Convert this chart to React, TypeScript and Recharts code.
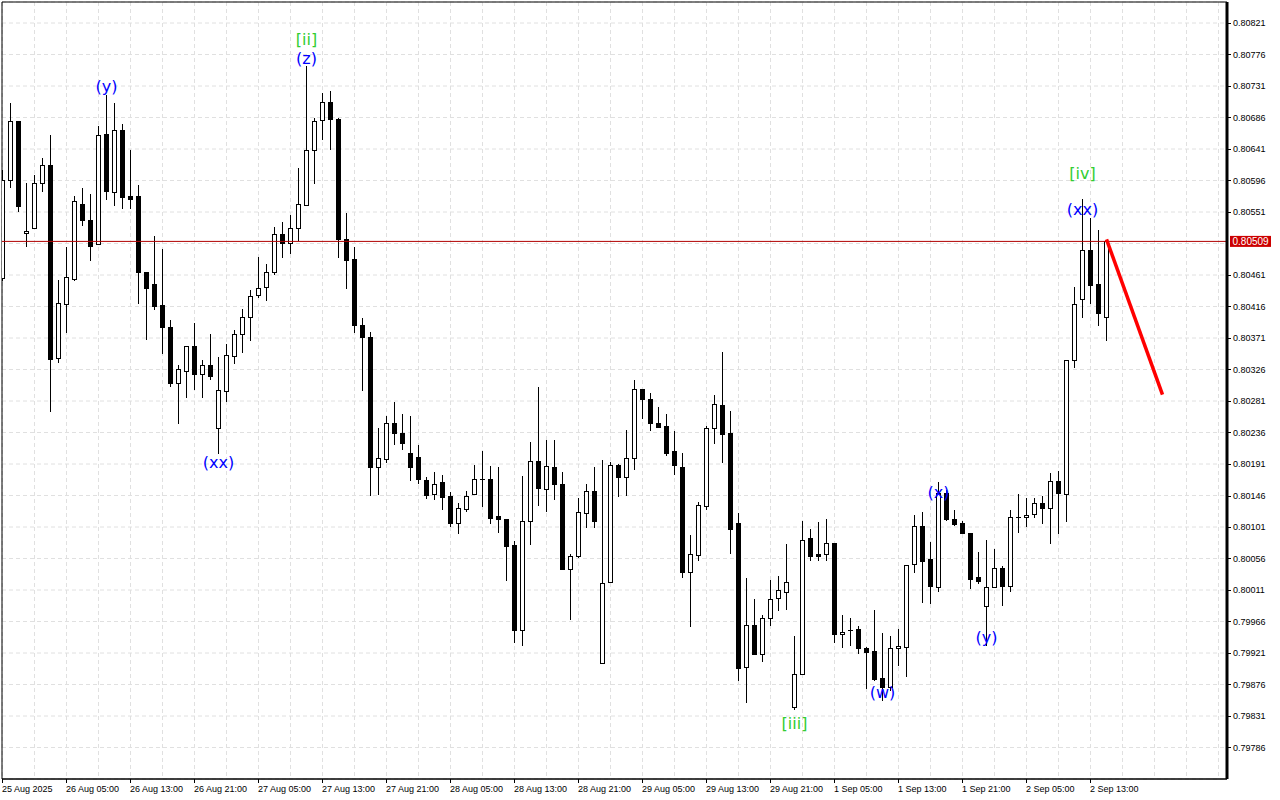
import React from 'react';
import {
  ComposedChart,
  Bar,
  XAxis,
  YAxis,
  CartesianGrid,
  ReferenceLine,
  ReferenceArea,
  Scatter,
} from 'recharts';

// ---- candle data (H1), index 0 = 25 Aug 21:00 ----
const opens = [
  0.80457, 0.80597, 0.80681, 0.80521, 0.80528, 0.80592, 0.80618, 0.80342, 0.80419, 0.80455,
  0.80563, 0.80539, 0.80505, 0.80662, 0.8058, 0.80668, 0.80574, 0.80574, 0.80465, 0.80448,
  0.80418, 0.80387, 0.80306, 0.80324, 0.8036, 0.80319, 0.80332, 0.80242, 0.80295, 0.80346,
  0.80376, 0.80401, 0.80433, 0.80444, 0.80465, 0.80519, 0.80506, 0.80528, 0.80561, 0.8064,
  0.80682, 0.80708, 0.80684, 0.80513, 0.80484, 0.80389, 0.80373, 0.80187, 0.80198, 0.80249,
  0.80235, 0.80206, 0.80201, 0.80168, 0.80148, 0.80165, 0.80145, 0.80107, 0.80127, 0.80148,
  0.8017, 0.8017, 0.80117, 0.80112, 0.80075, 0.79954, 0.80109, 0.80195, 0.80155, 0.80187,
  0.80163, 0.80041, 0.80059, 0.80121, 0.80152, 0.79906, 0.80022, 0.80189, 0.80172, 0.80199,
  0.80298, 0.80284, 0.80249, 0.80245, 0.8021, 0.80187, 0.80037, 0.80061, 0.80131, 0.80243,
  0.80275, 0.80235, 0.80106, 0.79901, 0.79961, 0.7992, 0.79971, 0.79999, 0.80008, 0.79844,
  0.79891, 0.80085, 0.80062, 0.80062, 0.80078, 0.79948, 0.79954, 0.79955, 0.79928, 0.79924,
  0.79885, 0.79872, 0.79928, 0.79929, 0.80048, 0.80103, 0.80055, 0.80015, 0.80149, 0.80113,
  0.80106, 0.80092, 0.80029, 0.79988, 0.80015, 0.80042, 0.80017, 0.80115, 0.80115, 0.8012,
  0.80135, 0.80128, 0.80166, 0.80148, 0.8034, 0.80426, 0.80497, 0.80448, 0.80401,
];

const highs = [
  0.80611, 0.80707, 0.80681, 0.80592, 0.80604, 0.80628, 0.80661, 0.80454, 0.80501, 0.80574,
  0.80585, 0.80577, 0.80674, 0.80718, 0.80706, 0.80677, 0.8064, 0.8059, 0.80465, 0.80517,
  0.80498, 0.80397, 0.80332, 0.8036, 0.80393, 0.8034, 0.80377, 0.80344, 0.80362, 0.80382,
  0.80412, 0.80439, 0.80487, 0.80477, 0.80529, 0.80536, 0.80547, 0.80614, 0.80759, 0.80685,
  0.80721, 0.80724, 0.80685, 0.8055, 0.80501, 0.80399, 0.8038, 0.80242, 0.80259, 0.80279,
  0.80262, 0.80259, 0.80218, 0.80172, 0.80179, 0.80175, 0.80151, 0.80135, 0.80153, 0.8019,
  0.8021, 0.80188, 0.80187, 0.80112, 0.80081, 0.80174, 0.80222, 0.80301, 0.80225, 0.80225,
  0.80179, 0.80063, 0.80142, 0.80162, 0.80187, 0.80197, 0.80194, 0.80191, 0.8024, 0.80311,
  0.80298, 0.80293, 0.80272, 0.80262, 0.80238, 0.80206, 0.8009, 0.80136, 0.80245, 0.8029,
  0.80351, 0.80266, 0.80121, 0.80028, 0.79998, 0.79975, 0.80025, 0.80031, 0.80077, 0.79945,
  0.8011, 0.80098, 0.80108, 0.80112, 0.80078, 0.79975, 0.79971, 0.79959, 0.7993, 0.79982,
  0.79949, 0.79945, 0.79955, 0.80047, 0.80118, 0.80123, 0.8008, 0.80165, 0.80154, 0.80125,
  0.80109, 0.80092, 0.80065, 0.80083, 0.80069, 0.80045, 0.80125, 0.80148, 0.80143, 0.80142,
  0.80145, 0.80178, 0.80181, 0.8034, 0.80444, 0.8057, 0.80543, 0.80525, 0.80511,
];

const lows = [
  0.80454, 0.80587, 0.80552, 0.80503, 0.80528, 0.80581, 0.80267, 0.80337, 0.80379, 0.80454,
  0.80533, 0.80482, 0.80505, 0.8057, 0.80561, 0.80556, 0.80556, 0.80421, 0.8037, 0.80412,
  0.8035, 0.80303, 0.8025, 0.80286, 0.80298, 0.80286, 0.80312, 0.80206, 0.80281, 0.80335,
  0.80351, 0.80368, 0.8043, 0.80425, 0.80462, 0.80486, 0.80492, 0.80511, 0.80561, 0.80592,
  0.80655, 0.80641, 0.80487, 0.80443, 0.8038, 0.80296, 0.80147, 0.80148, 0.80194, 0.8022,
  0.80213, 0.80168, 0.80164, 0.80142, 0.80141, 0.80127, 0.80102, 0.80093, 0.80124, 0.80148,
  0.80131, 0.80107, 0.80094, 0.80025, 0.79936, 0.79932, 0.80076, 0.80133, 0.80124, 0.80141,
  0.80041, 0.7997, 0.80058, 0.80101, 0.80101, 0.79906, 0.80022, 0.80146, 0.80147, 0.80184,
  0.80257, 0.80239, 0.80244, 0.80204, 0.80177, 0.80029, 0.79959, 0.80054, 0.80127, 0.80221,
  0.80194, 0.80064, 0.79883, 0.79851, 0.7992, 0.79909, 0.79961, 0.79982, 0.79984, 0.79841,
  0.79891, 0.80054, 0.80054, 0.80054, 0.79936, 0.79929, 0.79932, 0.79921, 0.79871, 0.79882,
  0.79854, 0.79868, 0.79904, 0.79888, 0.80037, 0.79994, 0.79993, 0.80009, 0.80111, 0.80104,
  0.80093, 0.80014, 0.80021, 0.79932, 0.80015, 0.79989, 0.8001, 0.80094, 0.80103, 0.80115,
  0.80107, 0.80078, 0.80092, 0.80109, 0.8033, 0.80401, 0.80421, 0.80389, 0.80368,
];

const closes = [
  0.80597, 0.80681, 0.8056, 0.80524, 0.80592, 0.80618, 0.80341, 0.80421, 0.80458, 0.80566,
  0.80539, 0.80503, 0.80661, 0.80581, 0.80668, 0.80573, 0.8057, 0.80465, 0.80443, 0.80417,
  0.80386, 0.80307, 0.80326, 0.8036, 0.80319, 0.80333, 0.80316, 0.80296, 0.80346, 0.80376,
  0.80401, 0.80431, 0.80443, 0.80465, 0.80519, 0.80506, 0.80528, 0.80562, 0.8064, 0.80681,
  0.80708, 0.80684, 0.80513, 0.80482, 0.80389, 0.80372, 0.80187, 0.80199, 0.80249, 0.80235,
  0.80221, 0.80186, 0.80169, 0.80147, 0.80163, 0.80144, 0.80107, 0.80128, 0.80146, 0.80169,
  0.8017, 0.80114, 0.80112, 0.80074, 0.79954, 0.8011, 0.80195, 0.80157, 0.80188, 0.80163,
  0.80041, 0.80059, 0.80122, 0.80152, 0.8011, 0.80021, 0.80189, 0.80173, 0.80199, 0.80298,
  0.80284, 0.80249, 0.80244, 0.80207, 0.80189, 0.80037, 0.80062, 0.80132, 0.80243, 0.80276,
  0.80234, 0.80098, 0.799, 0.79961, 0.7992, 0.79971, 0.79998, 0.80011, 0.80023, 0.79891,
  0.80082, 0.8006, 0.8006, 0.80078, 0.79948, 0.79951, 0.79954, 0.79928, 0.79922, 0.79884,
  0.79872, 0.79928, 0.79931, 0.80047, 0.80103, 0.80053, 0.80017, 0.80149, 0.80112, 0.80105,
  0.80093, 0.80027, 0.80024, 0.80015, 0.80042, 0.80017, 0.80115, 0.80115, 0.80118, 0.80135,
  0.80128, 0.80167, 0.80149, 0.8034, 0.80419, 0.80497, 0.80447, 0.80406, 0.80509,
];

// ---- axis ticks ----
const priceTicks = [
  0.80821, 0.80776, 0.80731, 0.80686, 0.80641, 0.80596, 0.80551, 0.80506, 0.80461, 0.80416,
  0.80371, 0.80326, 0.80281, 0.80236, 0.80191, 0.80146, 0.80101, 0.80056, 0.80011, 0.79966,
  0.79921, 0.79876, 0.79831, 0.79786,
];
const hiddenPriceLabel = 0.80506;

const timeLabels = [
  '25 Aug 2025', '26 Aug 05:00', '26 Aug 13:00', '26 Aug 21:00', '27 Aug 05:00', '27 Aug 13:00',
  '27 Aug 21:00', '28 Aug 05:00', '28 Aug 13:00', '28 Aug 21:00', '29 Aug 05:00', '29 Aug 13:00',
  '29 Aug 21:00', '1 Sep 05:00', '1 Sep 13:00', '1 Sep 21:00', '2 Sep 05:00', '2 Sep 13:00',
];
const gridStepBars = 4;
const labelStepBars = 8;
const gridTicks = Array.from({ length: 39 }, (_, k) => k * gridStepBars);

const currentPrice = 0.80509;

// ---- wave annotations ----
const waveText = ['(y)', '[ii]', '(z)', '(xx)', '[iii]', '(w)', '(x)', '(y)', '[iv]', '(xx)'];
const waveIdx = [13, 38, 38, 27, 99, 110, 117, 123, 135, 135];
const wavePrice = [0.8073, 0.80798, 0.8077, 0.80194, 0.79821, 0.79865, 0.80151, 0.79944, 0.80607, 0.80555];
const waveKind = ['minor', 'major', 'minor', 'minor', 'major', 'minor', 'minor', 'minor', 'major', 'minor'];

// ---- forecast arrow ----
const forecastIdx = [138, 145];
const forecastPrice = [0.80512, 0.8029];

const candles = opens.map((o, i) => ({ i, o, h: highs[i], l: lows[i], c: closes[i] }));
const waveData = waveText.map((t, k) => ({
  i: waveIdx[k],
  p: wavePrice[k],
  text: t,
  color: waveKind[k] === 'major' ? '#32cd32' : '#0000ff',
}));

const X_DOMAIN: [number, number] = [-0.0625, 153.0625];
const Y_DOMAIN: [number, number] = [0.79741, 0.80851];

const AXIS_FONT = '"Liberation Sans", Arial, sans-serif';

function Candle(props: any) {
  const { x, y, width, height, payload } = props;
  if (x == null || y == null || !payload) return null;
  const { o, h, l, c } = payload;
  const top = Math.min(y, y + height);
  const span = Math.abs(height);
  const k = h - l > 0 ? span / (h - l) : 0;
  const yO = top + (h - o) * k;
  const yC = top + (h - c) * k;
  const cx = Math.floor(x + width / 2) + 0.5;
  const wTop = Math.round(top);
  const wBot = Math.round(top + span);
  const bTop = Math.round(Math.min(yO, yC));
  const bBot = Math.round(Math.max(yO, yC));
  const isDoji = o === c || bBot - bTop < 1;
  return (
    <g>
      <line x1={cx} x2={cx} y1={wTop} y2={wBot + 1} stroke="#000" strokeWidth={1} />
      {isDoji ? (
        <line x1={cx - 2.5} x2={cx + 2.5} y1={bTop + 0.5} y2={bTop + 0.5} stroke="#000" strokeWidth={1} />
      ) : (
        <rect
          x={cx - 2}
          y={bTop + 0.5}
          width={4}
          height={bBot - bTop}
          fill={c > o ? '#fff' : '#000'}
          stroke="#000"
          strokeWidth={1}
        />
      )}
    </g>
  );
}

function XTick(props: any) {
  const { x, y, payload } = props;
  const v = payload.value;
  if (v % labelStepBars !== 0) return null;
  const label = timeLabels[v / labelStepBars];
  if (!label) return null;
  const px = Math.floor(x) + 0.5;
  return (
    <g>
      <line x1={px} x2={px} y1={y} y2={y + 4} stroke="#000" strokeWidth={1} />
      <text x={px - 0.5} y={y + 13} fontSize={9} fontFamily={AXIS_FONT} fill="#000" textAnchor="start">
        {label}
      </text>
    </g>
  );
}

function YTick(props: any) {
  const { x, y, payload } = props;
  const v = payload.value;
  if (Math.abs(v - hiddenPriceLabel) < 1e-7) return null;
  const py = Math.round(y) + 0.5;
  return (
    <g>
      <line x1={x} x2={x + 4} y1={py} y2={py} stroke="#000" strokeWidth={1} />
      <text x={x + 6} y={y + 3.3} fontSize={9} fontFamily={AXIS_FONT} fill="#000" textAnchor="start">
        {v.toFixed(5)}
      </text>
    </g>
  );
}

function PriceTag(props: any) {
  const vb = props.viewBox || {};
  const x0 = (vb.x || 0) + (vb.width || 0) + 3;
  const y0 = vb.y || 0;
  return (
    <g>
      <rect x={x0} y={y0 - 5.5} width={41} height={11} fill="#cc0000" />
      <text x={x0 + 2.5} y={y0 + 3.6} fontSize={10} fontFamily={AXIS_FONT} fill="#fff" textAnchor="start">
        {currentPrice.toFixed(5)}
      </text>
    </g>
  );
}

function WaveLabel(props: any) {
  const { cx, cy, payload } = props;
  if (cx == null || cy == null) return null;
  return (
    <text
      x={cx}
      y={cy}
      dy="0.36em"
      textAnchor="middle"
      fontSize={16}
      fontFamily='"DejaVu Sans", sans-serif'
      fill={payload.color}
    >
      {payload.text}
    </text>
  );
}

export default function App() {
  return (
    <div style={{ position: 'absolute', left: 0, top: 0, width: 1280, height: 800, background: '#fff' }}>
      <ComposedChart
        width={1280}
        height={800}
        data={candles}
        margin={{ top: 2, right: 0, bottom: 0, left: 2 }}
      >
        <CartesianGrid stroke="#e0e0e0" strokeDasharray="4 3" />
        <XAxis
          dataKey="i"
          type="number"
          domain={X_DOMAIN}
          allowDataOverflow
          ticks={gridTicks}
          interval={0}
          height={21}
          tickSize={0}
          tickMargin={0}
          tickLine={false}
          axisLine={{ stroke: '#000' }}
          tick={(p: any) => <XTick {...p} />}
        />
        <YAxis
          orientation="right"
          type="number"
          domain={Y_DOMAIN}
          allowDataOverflow
          ticks={priceTicks}
          interval={0}
          width={53}
          tickSize={0}
          tickMargin={0}
          tickLine={false}
          axisLine={{ stroke: '#000', strokeWidth: 3 }}
          tick={(p: any) => <YTick {...p} />}
        />
        <ReferenceArea
          x1={X_DOMAIN[0]}
          x2={X_DOMAIN[1]}
          y1={Y_DOMAIN[0]}
          y2={Y_DOMAIN[1]}
          fill="none"
          fillOpacity={0}
          stroke="#000"
          strokeWidth={1}
          ifOverflow="visible"
        />
        <ReferenceLine
          y={currentPrice}
          stroke="#b00000"
          strokeWidth={1}
          ifOverflow="visible"
          label={<PriceTag />}
        />
        <Bar
          dataKey={(d: any) => [d.l, d.h]}
          barSize={5}
          isAnimationActive={false}
          shape={(p: any) => <Candle {...p} />}
        />
        <ReferenceLine
          segment={[
            { x: forecastIdx[0], y: forecastPrice[0] },
            { x: forecastIdx[1], y: forecastPrice[1] },
          ]}
          stroke="#ff0000"
          strokeWidth={3.5}
          ifOverflow="visible"
        />
        <Scatter
          data={waveData}
          dataKey="p"
          isAnimationActive={false}
          shape={(p: any) => <WaveLabel {...p} />}
        />
      </ComposedChart>
    </div>
  );
}
